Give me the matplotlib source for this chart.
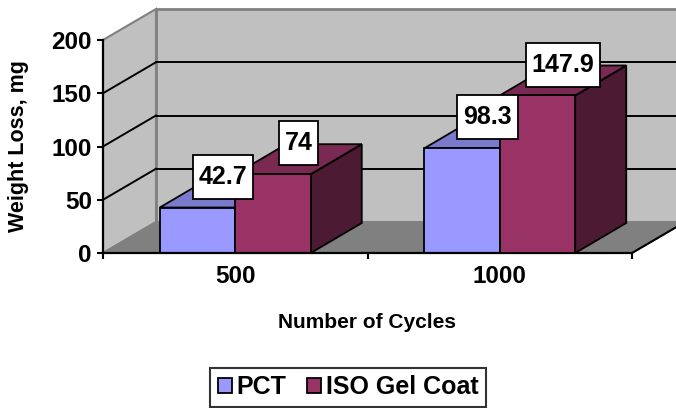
import matplotlib
matplotlib.use("Agg")
import matplotlib.pyplot as plt
from matplotlib.patches import Polygon, Rectangle, Patch
from matplotlib.path import Path

# ---- data ----
categories = ["500", "1000"]
series_names = ["PCT", "ISO Gel Coat"]
pct_values = [42.7, 98.3]
iso_values = [74, 147.9]
y_ticks = [0, 50, 100, 150, 200]
x_title = "Number of Cycles"
y_title = "Weight Loss, mg"

# ---- style ----
plt.rcParams['font.family'] = ['Liberation Sans', 'DejaVu Sans']
plt.rcParams['font.weight'] = 'bold'

front_cols = ["#9999FF", "#993366"]
top_cols = ["#7A7ACC", "#7A2952"]
side_cols = ["#5C5C99", "#4D1A33"]
wall_col = "#C0C0C0"
floor_col = "#808080"
edge_gray = "#808080"

W, H = 676, 408
PX_X = 264.5      # pixels per category unit
PX_Y = 1.065      # pixels per value unit
fig = plt.figure(figsize=(W / 100, H / 100), dpi=100)
ax = fig.add_axes([103 / W, (H - 253) / H, 573 / W, 248 / H])
xmax = 573 / PX_X
ax.set_xlim(0, xmax)
ax.set_ylim(0, 248 / PX_Y)
ax.patch.set_visible(False)

# depth of the 3-D box (wall) and of the bars, in data units
DX, DY = 53 / PX_X, 31 / PX_Y
BDX, BDY = 51 / PX_X, 30 / PX_Y
ymax_axis = y_ticks[-1]
ncat = len(categories)


def label_box(x0, y0, width, height, mutation_size):
    padx = 0.23 * mutation_size
    pady = 0.40 * mutation_size
    xa, xb = x0 - padx, x0 + width + padx
    ya, yb = y0 - pady, y0 + height + pady
    return Path([(xa, ya), (xb, ya), (xb, yb), (xa, yb), (xa, ya)], closed=True)


# walls and floor
ax.add_patch(Polygon([(DX, DY), (xmax + 1, DY), (xmax + 1, ymax_axis + DY), (DX, ymax_axis + DY)],
                     closed=True, facecolor=wall_col, edgecolor=edge_gray, lw=2, zorder=1))
ax.add_patch(Polygon([(0, 0), (DX, DY), (DX, ymax_axis + DY), (0, ymax_axis)],
                     closed=True, facecolor=wall_col, edgecolor=edge_gray, lw=1.5, zorder=1))
ax.add_patch(Polygon([(0, 0), (ncat, 0), (ncat + DX, DY), (DX, DY)],
                     closed=True, facecolor=floor_col, edgecolor=edge_gray, lw=1.2, zorder=1))
ax.plot([ncat, ncat + DX], [0, DY], color='black', lw=1.5, zorder=2, clip_on=False)

# gridlines
for v in y_ticks[1:-1]:
    ax.plot([0, DX], [v, v + DY], color='black', lw=1.4, zorder=2)
    ax.plot([DX, xmax + 1], [v + DY, v + DY], color='black', lw=1.4, zorder=2)

# bars
bar_w = 75.5 / PX_X
series_vals = [pct_values, iso_values]
z = 3
for ci in range(ncat):
    center = ci + 0.5
    for si, vals in enumerate(series_vals):
        h = vals[ci]
        x0 = center - bar_w + si * bar_w
        side = Polygon([(x0 + bar_w, 0), (x0 + bar_w + BDX, BDY), (x0 + bar_w + BDX, h + BDY), (x0 + bar_w, h)],
                       closed=True, facecolor=side_cols[si], edgecolor='black', lw=1.3, zorder=z)
        top = Polygon([(x0, h), (x0 + bar_w, h), (x0 + bar_w + BDX, h + BDY), (x0 + BDX, h + BDY)],
                      closed=True, facecolor=top_cols[si], edgecolor='black', lw=1.3, zorder=z)
        front = Rectangle((x0, 0), bar_w, h, facecolor=front_cols[si], edgecolor='black', lw=1.3, zorder=z + 0.5)
        ax.add_patch(side)
        ax.add_patch(top)
        ax.add_patch(front)
        z += 1
        lab = f"{h:g}"
        ax.annotate(lab, xy=(x0 + bar_w / 2 + BDX / 2, h + BDY / 2), xytext=(0, 11.5),
                    textcoords='offset points', ha='center', va='center', fontsize=18,
                    fontweight='bold', zorder=20,
                    bbox=dict(boxstyle=label_box, facecolor='white', edgecolor='black', lw=1.3))

# axes
for s in ['top', 'right']:
    ax.spines[s].set_visible(False)
ax.spines['left'].set_bounds(0, ymax_axis)
ax.spines['bottom'].set_bounds(0, ncat)
for s in ['left', 'bottom']:
    ax.spines[s].set_linewidth(1.6)
    ax.spines[s].set_color('black')
    ax.spines[s].set_zorder(6)

ax.set_yticks(y_ticks)
ax.set_yticklabels([str(t) for t in y_ticks])
ax.tick_params(axis='y', direction='out', length=4.5, width=1.5, pad=3.5, labelsize=17.5)

ax.set_xticks([i + 0.5 for i in range(ncat)])
ax.set_xticklabels(categories)
ax.set_xticks(list(range(ncat + 1)), minor=True)
ax.tick_params(axis='x', which='major', length=0, pad=8.5, labelsize=17.5)
ax.tick_params(axis='x', which='minor', direction='out', length=4, width=1.5)
for t in ax.get_xticklabels() + ax.get_yticklabels():
    t.set_fontweight('bold')

fig.text(367 / W, 1 - 323 / H, x_title, ha='center', va='center', fontsize=15, fontweight='bold')
fig.text(19 / W, 1 - 146 / H, y_title, ha='center', va='center', rotation=90, fontsize=15.5, fontweight='bold')

handles = [Patch(facecolor=front_cols[i], edgecolor='black', lw=1.3) for i in range(len(series_names))]
leg = fig.legend(handles, series_names, loc='upper center', bbox_to_anchor=(348 / W, 1 - 368 / H),
                 ncol=2, frameon=True, fancybox=False, edgecolor='black',
                 handlelength=0.56, handleheight=0.56, handletextpad=0.2, columnspacing=0.8,
                 borderpad=0.3, borderaxespad=0, prop={'weight': 'bold', 'size': 18})
leg.get_frame().set_linewidth(1.5)

fig.savefig("out.png", dpi=100)
